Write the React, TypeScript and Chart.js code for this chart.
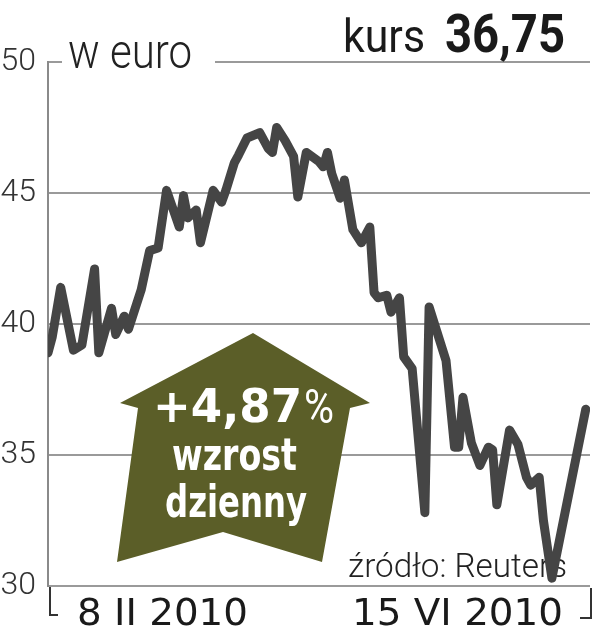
import React, { useEffect, useRef } from "react";
import { Chart, registerables } from "chart.js";

Chart.register(...registerables);

// Calendar days since 8 II 2010 and closing price (EUR)
const days = [0, 1, 3, 6, 8, 11, 12, 15, 16, 18, 19, 22, 24, 26, 28, 31, 32, 33, 35, 36, 39, 41, 42, 44, 45, 47, 50, 52, 53, 54, 56, 58, 59, 61, 64, 65, 66, 67, 69, 70, 72, 74, 76, 77, 78, 80, 81, 83, 84, 86, 89, 90, 94, 96, 97, 98, 100, 102, 104, 105, 106, 109, 111, 113, 114, 116, 117, 119, 127];
const prices = [38.9, 39.5, 41.4, 39.0, 39.2, 42.1, 38.9, 40.6, 39.6, 40.3, 39.8, 41.3, 42.8, 42.9, 45.1, 43.7, 44.9, 44.05, 44.35, 43.1, 45.1, 44.65, 45.1, 46.15, 46.45, 47.1, 47.3, 46.7, 46.55, 47.5, 47.0, 46.4, 44.85, 46.55, 46.2, 46.0, 46.55, 45.75, 44.8, 45.5, 43.6, 43.1, 43.7, 41.2, 41.0, 41.1, 40.45, 41.0, 38.75, 38.3, 32.8, 40.65, 38.6, 35.3, 35.3, 37.2, 35.45, 34.6, 35.3, 35.2, 33.1, 35.95, 35.4, 34.15, 33.85, 34.15, 32.5, 30.3, 36.75];

const yTicks = [30, 35, 40, 45, 50];
const xTickLabels = ["8 II 2010", "15 VI 2010"];
const unitLabel = "w euro";
const headerLabel = "kurs";
const headerValue = "36,75";
const changeLabel = "+4,87";
const changeLines = ["wzrost", "dzienny"];
const sourceLabel = "źródło: Reuters";

function drawFit(ctx: CanvasRenderingContext2D, text: string, x: number, y: number, font: string, width: number, color: string) {
  ctx.save();
  ctx.font = font;
  const w = ctx.measureText(text).width || 1;
  ctx.translate(x, y);
  ctx.scale(width / w, 1);
  ctx.fillStyle = color;
  ctx.textAlign = "left";
  ctx.textBaseline = "alphabetic";
  ctx.fillText(text, 0, 0);
  ctx.restore();
}

const decorPlugin = {
  id: "decor",
  beforeDatasetsDraw(chart: any) {
    const ctx: CanvasRenderingContext2D = chart.ctx;
    const { left, right, bottom } = chart.chartArea;
    const ys = chart.scales.y;
    const topY = ys.getPixelForValue(50);

    // gap in top gridline + unit label
    ctx.save();
    ctx.fillStyle = "#ffffff";
    ctx.fillRect(left + 14, topY - 4, 153, 8);
    ctx.restore();
    drawFit(ctx, unitLabel, left + 20, topY + 6, "300 49px Roboto", 124, "#222");

    // header
    drawFit(ctx, headerLabel, 343, 52, "400 47px Roboto", 82, "#1a1a1a");
    drawFit(ctx, headerValue, 445, 52, "700 54px Roboto", 120, "#1a1a1a");

    // arrow
    ctx.save();
    ctx.fillStyle = "#5b5e28";
    ctx.beginPath();
    ctx.moveTo(253, 333);
    ctx.lineTo(370, 403);
    ctx.lineTo(350, 408);
    ctx.lineTo(322, 562);
    ctx.lineTo(223, 532);
    ctx.lineTo(117, 562);
    ctx.lineTo(138, 408);
    ctx.lineTo(120, 403);
    ctx.closePath();
    ctx.fill();
    ctx.restore();
    drawFit(ctx, changeLabel, 153, 422, "700 46px 'DejaVu Sans'", 149, "#ffffff");
    drawFit(ctx, "%", 304, 423, "400 48px Roboto", 30, "#ffffff");
    drawFit(ctx, changeLines[0], 172, 470, "700 44px 'DejaVu Sans'", 125, "#ffffff");
    drawFit(ctx, changeLines[1], 165, 517, "700 44px 'DejaVu Sans'", 142, "#ffffff");

    // source
    drawFit(ctx, sourceLabel, 348, 577, "300 33px Roboto", 219, "#222");

    // x labels and brackets
    drawFit(ctx, xTickLabels[0], 77, 625, "500 37px 'DejaVu Sans'", 171, "#1a1a1a");
    drawFit(ctx, xTickLabels[1], 352, 625, "500 37px 'DejaVu Sans'", 211, "#1a1a1a");
    ctx.save();
    ctx.strokeStyle = "#333";
    ctx.lineWidth = 2;
    ctx.beginPath();
    ctx.moveTo(left + 2, bottom + 1);
    ctx.lineTo(left + 2, bottom + 29);
    ctx.lineTo(left + 10, bottom + 29);
    ctx.moveTo(right + 1, bottom + 2);
    ctx.lineTo(right + 1, bottom + 32);
    ctx.lineTo(right - 10, bottom + 32);
    ctx.stroke();
    ctx.restore();
  },
};

export default function App() {
  const ref = useRef<HTMLCanvasElement | null>(null);
  useEffect(() => {
    if (!ref.current) return;
    const chart = new Chart(ref.current, {
      type: "line",
      data: {
        datasets: [
          {
            data: days.map((d, i) => ({ x: d, y: prices[i] })),
            borderColor: "#454545",
            borderWidth: 9,
            borderJoinStyle: "round",
            borderCapStyle: "round",
            pointRadius: 0,
            tension: 0,
            fill: false,
          },
        ],
      },
      options: {
        responsive: false,
        animation: false,
        layout: { padding: { top: 62, right: 3, bottom: 54, left: 0 } },
        plugins: { legend: { display: false }, tooltip: { enabled: false } },
        scales: {
          x: { type: "linear", min: 0, max: 128, display: false },
          y: {
            min: 30,
            max: 50,
            afterBuildTicks: (s: any) => {
              s.ticks = yTicks.map((v) => ({ value: v }));
            },
            afterFit: (s: any) => {
              s.width = 48;
            },
            grid: { color: "#9a9a9a", lineWidth: 2, drawTicks: false },
            border: { display: true, color: "#8a8a8a", width: 2 },
            ticks: {
              padding: 12,
              color: "#333",
              font: { family: "Roboto", size: 32, weight: "300" },
            },
          },
        },
      },
      plugins: [decorPlugin],
    } as any);
    return () => chart.destroy();
  }, []);
  return (
    <div style={{ position: "fixed", left: 0, top: 0, width: 593, height: 640, background: "#fff" }}>
      <canvas ref={ref} width={593} height={640} />
    </div>
  );
}
